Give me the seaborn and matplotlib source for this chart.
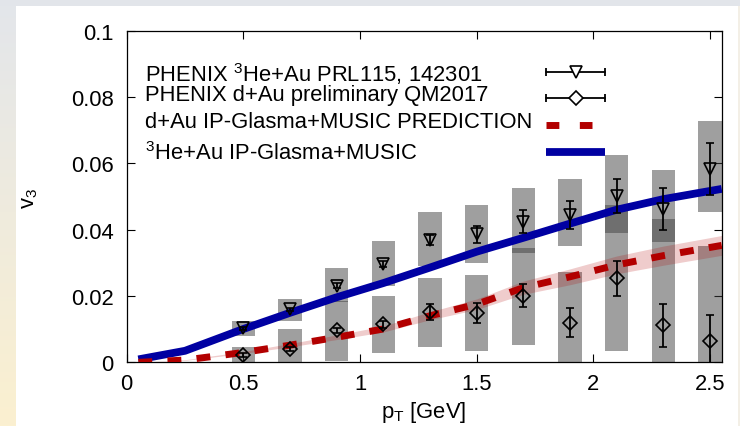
import numpy as np
import matplotlib
matplotlib.use("Agg")
import matplotlib.pyplot as plt
from matplotlib.patches import Rectangle
import seaborn as sns

# pT bins of the measured points
pt = [0.5, 0.7, 0.9, 1.1, 1.3, 1.5, 1.7, 1.9, 2.1, 2.3, 2.5]

# PHENIX 3He+Au v3 (PRL 115, 142301): value, statistical error, systematic band
he_v3 = [0.0101, 0.0158, 0.0230, 0.0296, 0.0368, 0.0386, 0.0424, 0.0444, 0.0502, 0.0463, 0.0584]
he_stat = [0.0005, 0.0006, 0.0008, 0.0009, 0.0015, 0.0026, 0.0034, 0.0042, 0.0052, 0.0063, 0.0079]
he_sys_lo = [0.0079, 0.0122, 0.0180, 0.0230, 0.0291, 0.0299, 0.0329, 0.0349, 0.0390, 0.0362, 0.0453]
he_sys_hi = [0.0122, 0.0190, 0.0283, 0.0364, 0.0453, 0.0475, 0.0525, 0.0552, 0.0626, 0.0579, 0.0727]

# PHENIX d+Au preliminary (QM2017)
da_v3 = [0.0020, 0.0038, 0.0095, 0.0113, 0.0150, 0.0147, 0.0200, 0.0118, 0.0253, 0.0111, 0.0064]
da_stat = [0.0005, 0.0006, 0.0008, 0.0010, 0.0025, 0.0030, 0.0034, 0.0044, 0.0053, 0.0065, 0.0078]
da_sys_lo = [-0.0005, -0.0022, 0.0002, 0.0026, 0.0045, 0.0031, 0.0052, -0.0040, 0.0033, -0.0210, -0.0220]
da_sys_hi = [0.0045, 0.0099, 0.0183, 0.0200, 0.0254, 0.0263, 0.0344, 0.0271, 0.0475, 0.0432, 0.0349]

# IP-Glasma+MUSIC calculations
calc_pt = [0.05, 0.25, 0.5, 0.7, 0.9, 1.1, 1.3, 1.5, 1.7, 1.9, 2.1, 2.3, 2.55]
he_calc = [0.0007, 0.0033, 0.0099, 0.0148, 0.0195, 0.0238, 0.0285, 0.0333, 0.0375, 0.0418, 0.0460, 0.0492, 0.0523]
da_calc = [-0.0002, 0.0005, 0.0028, 0.0050, 0.0074, 0.0099, 0.0139, 0.0174, 0.0224, 0.0257, 0.0293, 0.0321, 0.0352]
da_calc_err = [0.0, 0.0001, 0.0003, 0.0005, 0.0007, 0.0009, 0.0012, 0.0016, 0.0020, 0.0024, 0.0027, 0.0029, 0.0030]

labels = [
    r"PHENIX $^{3}$He+Au PRL115, 142301",
    "PHENIX d+Au preliminary QM2017",
    "d+Au IP-Glasma+MUSIC PREDICTION",
    r"$^{3}$He+Au IP-Glasma+MUSIC",
]

BLUE = "#0000a2"
RED = "#b20000"
FS = 15.8

sns.set_theme(style="ticks")
plt.rcParams["font.family"] = ["Liberation Sans", "DejaVu Sans"]
plt.rcParams["mathtext.fontset"] = "custom"
plt.rcParams["mathtext.rm"] = "Liberation Sans"
plt.rcParams["mathtext.it"] = "Liberation Sans:italic"

W, H = 740, 427
fig = plt.figure(figsize=(W / 100, H / 100), dpi=100, facecolor="white")

# slide-style backdrop: grey top strip and a shaded strip on the left
bg = fig.add_axes([0, 0, 1, 1], zorder=-10)
bg.set_xlim(0, W)
bg.set_ylim(H, 0)
bg.axis("off")
top_c = np.array([227, 230, 235]) / 255
bot_c = np.array([251, 240, 208]) / 255
t = np.linspace(0, 1, 200)[:, None, None]
grad = top_c * (1 - t) + bot_c * t
bg.imshow(grad, extent=[0, 16, H, 0], aspect="auto", interpolation="bilinear")
bg.add_patch(Rectangle((0, 0), W, 7, color="#e2e5ea", lw=0))
bg.add_patch(Rectangle((738, 7), 2, H, color="#f3efe6", lw=0))

x0, x1, y0, y1 = 126.7, 721.7, 32.3, 362.7
ax = fig.add_axes([x0 / W, 1 - y1 / H, (x1 - x0) / W, (y1 - y0) / H])
ax.set_facecolor("none")

# systematic uncertainty boxes
for lo, hi in ((he_sys_lo, he_sys_hi), (da_sys_lo, da_sys_hi)):
    lo = np.array(lo)
    hi = np.array(hi)
    ax.bar(pt, hi - lo, bottom=lo, width=0.1, color="#404040", alpha=0.5,
           lw=0, zorder=1)

# d+Au prediction uncertainty band
da_c = np.array(da_calc)
da_e = np.array(da_calc_err)
ax.fill_between(calc_pt, da_c - da_e, da_c + da_e, color=RED, alpha=0.2,
                lw=0, zorder=2)

sns.lineplot(x=calc_pt, y=he_calc, ax=ax, color=BLUE, lw=5.6, zorder=3,
             solid_capstyle="butt")
sns.lineplot(x=calc_pt, y=da_calc, ax=ax, color=RED, lw=5.0, zorder=3,
             linestyle=(0, (2.0, 2.2)), dash_capstyle="butt")

ax.errorbar(pt, he_v3, yerr=he_stat, fmt="v", ms=9, mfc="none", mec="black",
            mew=1.2, ecolor="black", elinewidth=1.3, capsize=3.2,
            capthick=1.3, zorder=5)
ax.errorbar(pt, da_v3, yerr=da_stat, fmt="D", ms=6.8, mfc="none", mec="black",
            mew=1.2, ecolor="black", elinewidth=1.3, capsize=3.2,
            capthick=1.3, zorder=5)

ax.set_xlim(0, 2.55)
ax.set_ylim(0, 0.1)
ax.set_xticks([0, 0.5, 1, 1.5, 2, 2.5])
ax.set_xticklabels(["0", "0.5", "1", "1.5", "2", "2.5"])
ax.set_yticks([0, 0.02, 0.04, 0.06, 0.08, 0.1])
ax.set_yticklabels(["0", "0.02", "0.04", "0.06", "0.08", "0.1"])
ax.tick_params(direction="in", length=6, width=0.8, color="black",
               top=True, right=True, labelsize=FS, labelcolor="black")
ax.tick_params(axis="x", pad=8)
ax.tick_params(axis="y", pad=9.5)
for s in ax.spines.values():
    s.set_visible(True)
    s.set_color("black")
    s.set_linewidth(0.9)

fig.text(424 / W, 1 - 413 / H, r"p$_\mathrm{T}$ [GeV]", ha="center", va="center",
         fontsize=FS, color="black")
fig.text(30 / W, 1 - 198 / H, r"v$_3$", ha="center", va="center",
         rotation=90, fontsize=FS, color="black")

# key, laid out with left-aligned text and a sample column on the right
def fx(px):
    return (px - x0) / (x1 - x0)

def fy(py):
    return (y1 - py) / (y1 - y0)

text_rows = [74, 96, 122.5, 154]
sample_rows = [73.3, 99.3, 126, 152.7]
for lab, ty in zip(labels, text_rows):
    ax.text(fx(145), fy(ty), lab, transform=ax.transAxes, ha="left",
            va="center", fontsize=FS, color="black", zorder=6)

sx0, sx1, smid = fx(546), fx(605), fx(575.5)
for row, mk, ms in ((0, "v", 9), (1, "D", 6.8)):
    yy = fy(sample_rows[row])
    ax.plot([sx0, sx1], [yy, yy], transform=ax.transAxes, color="black",
            lw=1.3, zorder=6, clip_on=False)
    for xe in (sx0, sx1):
        ax.plot([xe], [yy], transform=ax.transAxes, marker="|", ms=6.4,
                mew=1.3, color="black", zorder=6, clip_on=False)
    ax.plot([smid], [yy], transform=ax.transAxes, marker=mk, ms=ms,
            mfc="white", mec="black", mew=1.2, zorder=7, clip_on=False)

yy = fy(sample_rows[2])
ax.plot([sx0, fx(592)], [yy, yy], transform=ax.transAxes, color=RED, lw=5.0,
        linestyle=(0, (1.85, 2.95)), dash_capstyle="butt", zorder=6)
yy = fy(sample_rows[3])
ax.plot([sx0, sx1], [yy, yy], transform=ax.transAxes, color=BLUE, lw=5.6,
        solid_capstyle="butt", zorder=6)

fig.savefig("out.png", dpi=100, facecolor=fig.get_facecolor())
